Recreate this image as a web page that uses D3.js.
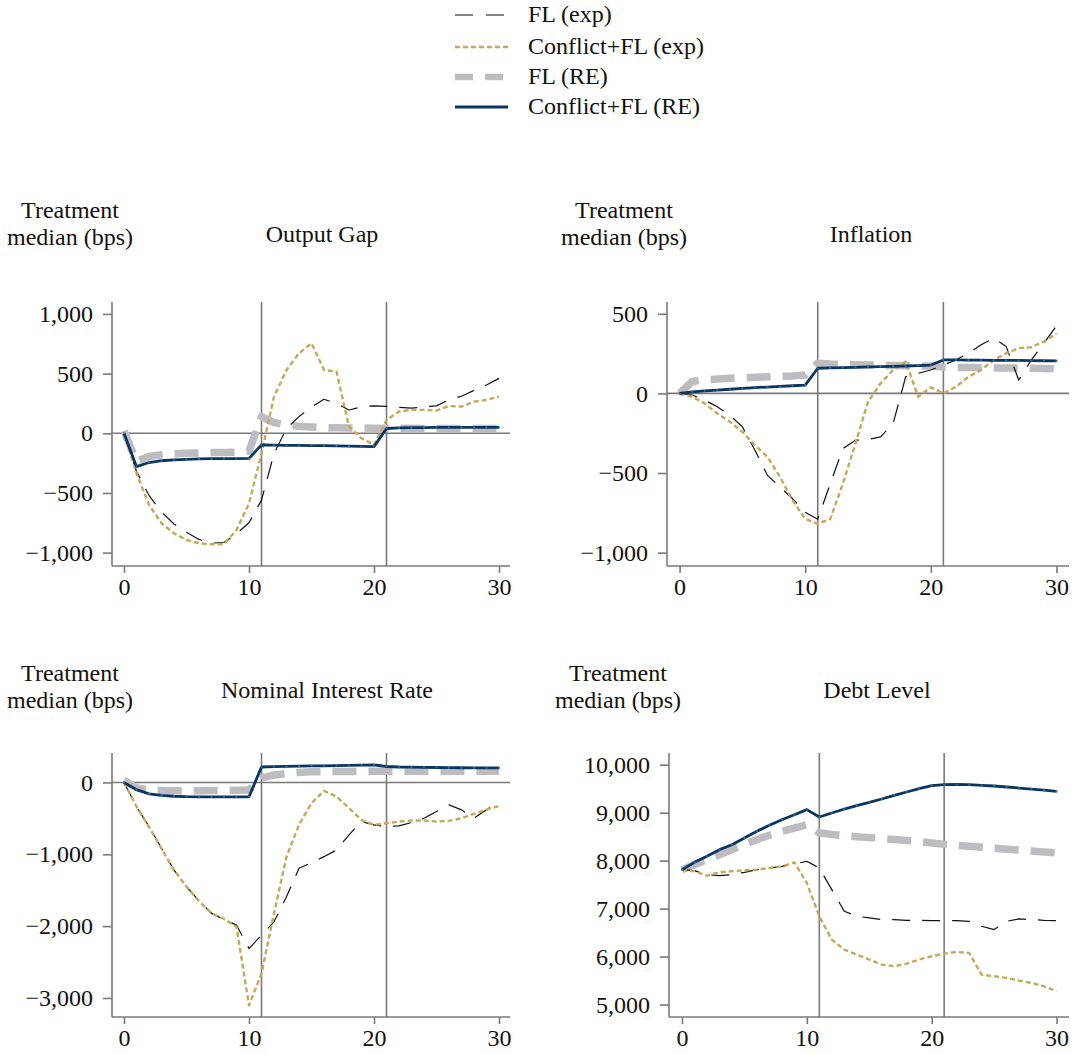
<!DOCTYPE html>
<html>
<head>
<meta charset="utf-8">
<script src="https://cdn.jsdelivr.net/npm/d3@7"></script>
<style>
  html, body { margin: 0; padding: 0; background: #fff; }
  svg { display: block; }
  text { font-family: "Liberation Serif", "Times New Roman", serif; fill: #111; }
</style>
</head>
<body>
<svg id="chart" width="1077" height="1055"></svg>
<script>
// ---------------- DATA ----------------
const periods = [0,1,2,3,4,5,6,7,8,9,10,11,12,13,14,15,16,17,18,19,20,21,22,23,24,25,26,27,28,29,30];
const seriesNames = ["FL (exp)", "Conflict+FL (exp)", "FL (RE)", "Conflict+FL (RE)"];
const panelTitles = ["Output Gap", "Inflation", "Nominal Interest Rate", "Debt Level"];
const yAxisLabel = ["Treatment", "median (bps)"];
const markerPeriods = [11, 21];

// Output Gap
const ogFlExp  = [0,-320,-520,-660,-760,-830,-890,-920,-915,-840,-750,-560,-170,40,140,220,285,250,195,222,230,225,218,210,222,230,280,310,360,405,460];
const ogCflExp = [0,-335,-600,-754,-838,-894,-922,-930,-930,-810,-587,-168,307,531,670,754,531,517,56,-42,-98,112,182,196,196,190,229,223,265,279,307];
const ogFlRE   = [20,-235,-195,-180,-172,-168,-165,-162,-160,-158,-150,140,90,70,58,52,48,46,45,44,43,43,42,42,41,41,41,40,40,40,40];
const ogCflRE  = [0,-280,-245,-230,-222,-218,-215,-213,-212,-212,-210,-98,-100,-101,-102,-103,-104,-106,-108,-110,-112,40,45,47,48,50,50,50,50,50,50];
const ogTicks  = [-1000,-500,0,500,1000];

// Inflation
const infFlExp  = [0,-10,-42,-84,-137,-210,-357,-515,-588,-662,-746,-790,-567,-347,-294,-290,-273,-189,105,126,147,178,210,252,305,347,294,84,210,315,424];
const infCflExp = [0,-21,-63,-126,-178,-242,-326,-399,-525,-672,-788,-819,-788,-567,-315,-53,63,147,200,-21,38,0,42,105,147,210,252,284,290,326,374];
const infFlRE   = [0,75,85,90,95,98,101,104,107,110,115,190,185,182,180,178,176,175,174,173,172,165,163,162,161,160,160,159,158,157,155];
const infCflRE  = [0,10,16,21,26,31,36,40,44,48,52,158,160,162,164,166,168,170,172,175,178,210,210,209,209,208,208,207,206,205,204];
const infTicks  = [-1000,-500,0,500];

// Nominal Interest Rate
const nirFlExp  = [0,-335,-614,-916,-1219,-1451,-1647,-1823,-1907,-1986,-2312,-2126,-1940,-1591,-1195,-1116,-1033,-940,-730,-544,-591,-614,-605,-558,-498,-405,-312,-381,-498,-381,-265];
const nirCflExp = [0,-335,-620,-920,-1220,-1450,-1650,-1820,-1900,-2010,-3102,-2660,-1823,-1033,-591,-288,-116,-195,-358,-521,-591,-567,-544,-530,-530,-544,-535,-498,-437,-381,-326];
const nirFlRE   = [30,-75,-105,-112,-115,-115,-114,-112,-110,-108,-105,60,105,125,140,148,150,152,153,154,155,155,155,155,155,155,155,155,155,155,155];
const nirCflRE  = [0,-100,-160,-180,-192,-198,-200,-200,-200,-200,-200,215,220,225,228,230,232,235,238,242,245,222,215,212,210,208,206,205,204,203,202];
const nirTicks  = [-3000,-2000,-1000,0];

// Debt Level
const debtFlExp  = [7812,7792,7708,7688,7708,7757,7812,7847,7882,7931,7986,7847,7396,6944,6840,6806,6771,6771,6757,6757,6750,6750,6750,6736,6632,6563,6736,6785,6771,6757,6750];
const debtCflExp = [7812,7778,7688,7757,7778,7799,7812,7847,7882,7965,7535,6840,6354,6146,6042,5938,5833,5799,5854,5938,6007,6063,6097,6076,5625,5590,5556,5500,5451,5382,5278];
const debtFlRE   = [7810,7920,8020,8125,8230,8335,8440,8530,8610,8680,8750,8580,8545,8520,8500,8480,8460,8440,8420,8400,8370,8340,8320,8300,8280,8260,8240,8220,8200,8180,8160];
const debtCflRE  = [7812,7965,8090,8229,8333,8472,8611,8736,8854,8958,9063,8910,8993,9076,9146,9215,9285,9361,9431,9500,9563,9583,9590,9583,9569,9556,9535,9514,9493,9472,9444];
const debtTicks  = [5000,6000,7000,8000,9000,10000];

const xTicks = [0,10,20,30];

// ---------------- STYLES ----------------
const styles = [
  { color: "#111111", width: 1.2, dash: "18,12", legendDash: "18,13" },   // FL (exp)
  { color: "#c9a65c", width: 2.4, dash: "5,3",   legendDash: "5,3" },     // Conflict+FL (exp)
  { color: "#bdbdc1", width: 7.5, dash: "24,12", legendDash: "18,12" },   // FL (RE)
  { color: "#0b3561", width: 2.8, dash: null,    legendDash: null }       // Conflict+FL (RE)
];
const drawOrder = [2, 0, 1, 3];
const axisColor = "#7a7a7a";
const FS = 24;

// ---------------- LAYOUT ----------------
const panels = [
  { title: panelTitles[0], series: [ogFlExp, ogCflExp, ogFlRE, ogCflRE], ticks: ogTicks,
    yDom: [-1112, 1100], left: 112, right: 510, xDom: [-0.96, 30.88], top: 302, bottom: 566,
    titleX: 322, titleY: 242, labX: 70, labY: 218 },
  { title: panelTitles[1], series: [infFlExp, infCflExp, infFlRE, infCflRE], ticks: infTicks,
    yDom: [-1084, 574], left: 667, right: 1069, xDom: [-1.0, 31.0], top: 302, bottom: 566,
    titleX: 871, titleY: 242, labX: 624, labY: 218 },
  { title: panelTitles[2], series: [nirFlExp, nirCflExp, nirFlRE, nirCflRE], ticks: nirTicks,
    yDom: [-3265, 410], left: 112, right: 510, xDom: [-0.96, 30.88], top: 753, bottom: 1017,
    titleX: 327, titleY: 698, labX: 70, labY: 681 },
  { title: panelTitles[3], series: [debtFlExp, debtCflExp, debtFlRE, debtCflRE], ticks: debtTicks,
    yDom: [4741, 10244], left: 669, right: 1069, xDom: [-1.04, 31.0], top: 753, bottom: 1017,
    titleX: 877, titleY: 698, labX: 618, labY: 681 }
];

const svg = d3.select("#chart");
const fmt = d3.format(",");

panels.forEach(p => {
  const x = d3.scaleLinear().domain(p.xDom).range([p.left, p.right]);
  const y = d3.scaleLinear().domain(p.yDom).range([p.bottom, p.top]);
  const g = svg.append("g");

  // y label
  g.append("text").attr("x", p.labX).attr("y", p.labY).attr("text-anchor", "middle")
    .style("font-size", FS + "px").text(yAxisLabel[0]);
  g.append("text").attr("x", p.labX).attr("y", p.labY + 27).attr("text-anchor", "middle")
    .style("font-size", FS + "px").text(yAxisLabel[1]);
  // title
  g.append("text").attr("x", p.titleX).attr("y", p.titleY).attr("text-anchor", "middle")
    .style("font-size", FS + "px").text(p.title);

  // reference lines
  if (p.yDom[0] < 0 && p.yDom[1] > 0) {
    g.append("line").attr("x1", p.left).attr("x2", p.right)
      .attr("y1", y(0)).attr("y2", y(0))
      .attr("stroke", axisColor).attr("stroke-width", 1.6);
  }
  markerPeriods.forEach(m => {
    g.append("line").attr("x1", x(m)).attr("x2", x(m))
      .attr("y1", p.top).attr("y2", p.bottom)
      .attr("stroke", axisColor).attr("stroke-width", 1.6);
  });

  // axes
  const xAxis = d3.axisBottom(x).tickValues(xTicks).tickSize(7).tickPadding(5).tickFormat(d3.format("d"));
  const gx = g.append("g").attr("transform", `translate(0,${p.bottom})`).call(xAxis);
  const yAxis = d3.axisLeft(y).tickValues(p.ticks).tickSize(9).tickPadding(10).tickFormat(fmt);
  const gy = g.append("g").attr("transform", `translate(${p.left},0)`).call(yAxis);
  [gx, gy].forEach(a => {
    a.select(".domain").attr("stroke", axisColor).attr("stroke-width", 1.6)
      .attr("d", a === gx ? `M${p.left},0H${p.right}` : `M0,${p.top}V${p.bottom}`);
    a.selectAll(".tick line").attr("stroke", axisColor).attr("stroke-width", 1.6);
    a.selectAll(".tick text").style("font-size", FS + "px")
      .style("font-family", '"Liberation Serif", serif').attr("fill", "#111");
  });

  // lines
  drawOrder.forEach(si => {
    const st = styles[si];
    const data = periods.map((t, i) => [t, p.series[si][i]]);
    const line = d3.line().x(d => x(d[0])).y(d => y(d[1]));
    const path = g.append("path").datum(data).attr("d", line)
      .attr("fill", "none").attr("stroke", st.color).attr("stroke-width", st.width)
      .attr("stroke-linejoin", "round");
    if (st.dash) path.attr("stroke-dasharray", st.dash);
    if (si === 3) {
      g.selectAll(null).data(data).enter().append("circle")
        .attr("cx", d => x(d[0])).attr("cy", d => y(d[1])).attr("r", 1.1)
        .attr("fill", "#3d6a96");
    }
  });
});

// ---------------- LEGEND ----------------
const legendRows = [15, 47, 77, 107];
const lg = svg.append("g");
seriesNames.forEach((name, i) => {
  const st = styles[i];
  const ly = legendRows[i];
  const l = lg.append("line").attr("x1", 455).attr("x2", 508).attr("y1", ly).attr("y2", ly)
    .attr("stroke", st.color).attr("stroke-width", i === 2 ? 6.5 : st.width);
  if (st.legendDash) l.attr("stroke-dasharray", st.legendDash);
  lg.append("text").attr("x", 528).attr("y", ly + 7).style("font-size", FS + "px").text(name);
});
</script>
</body>
</html>
